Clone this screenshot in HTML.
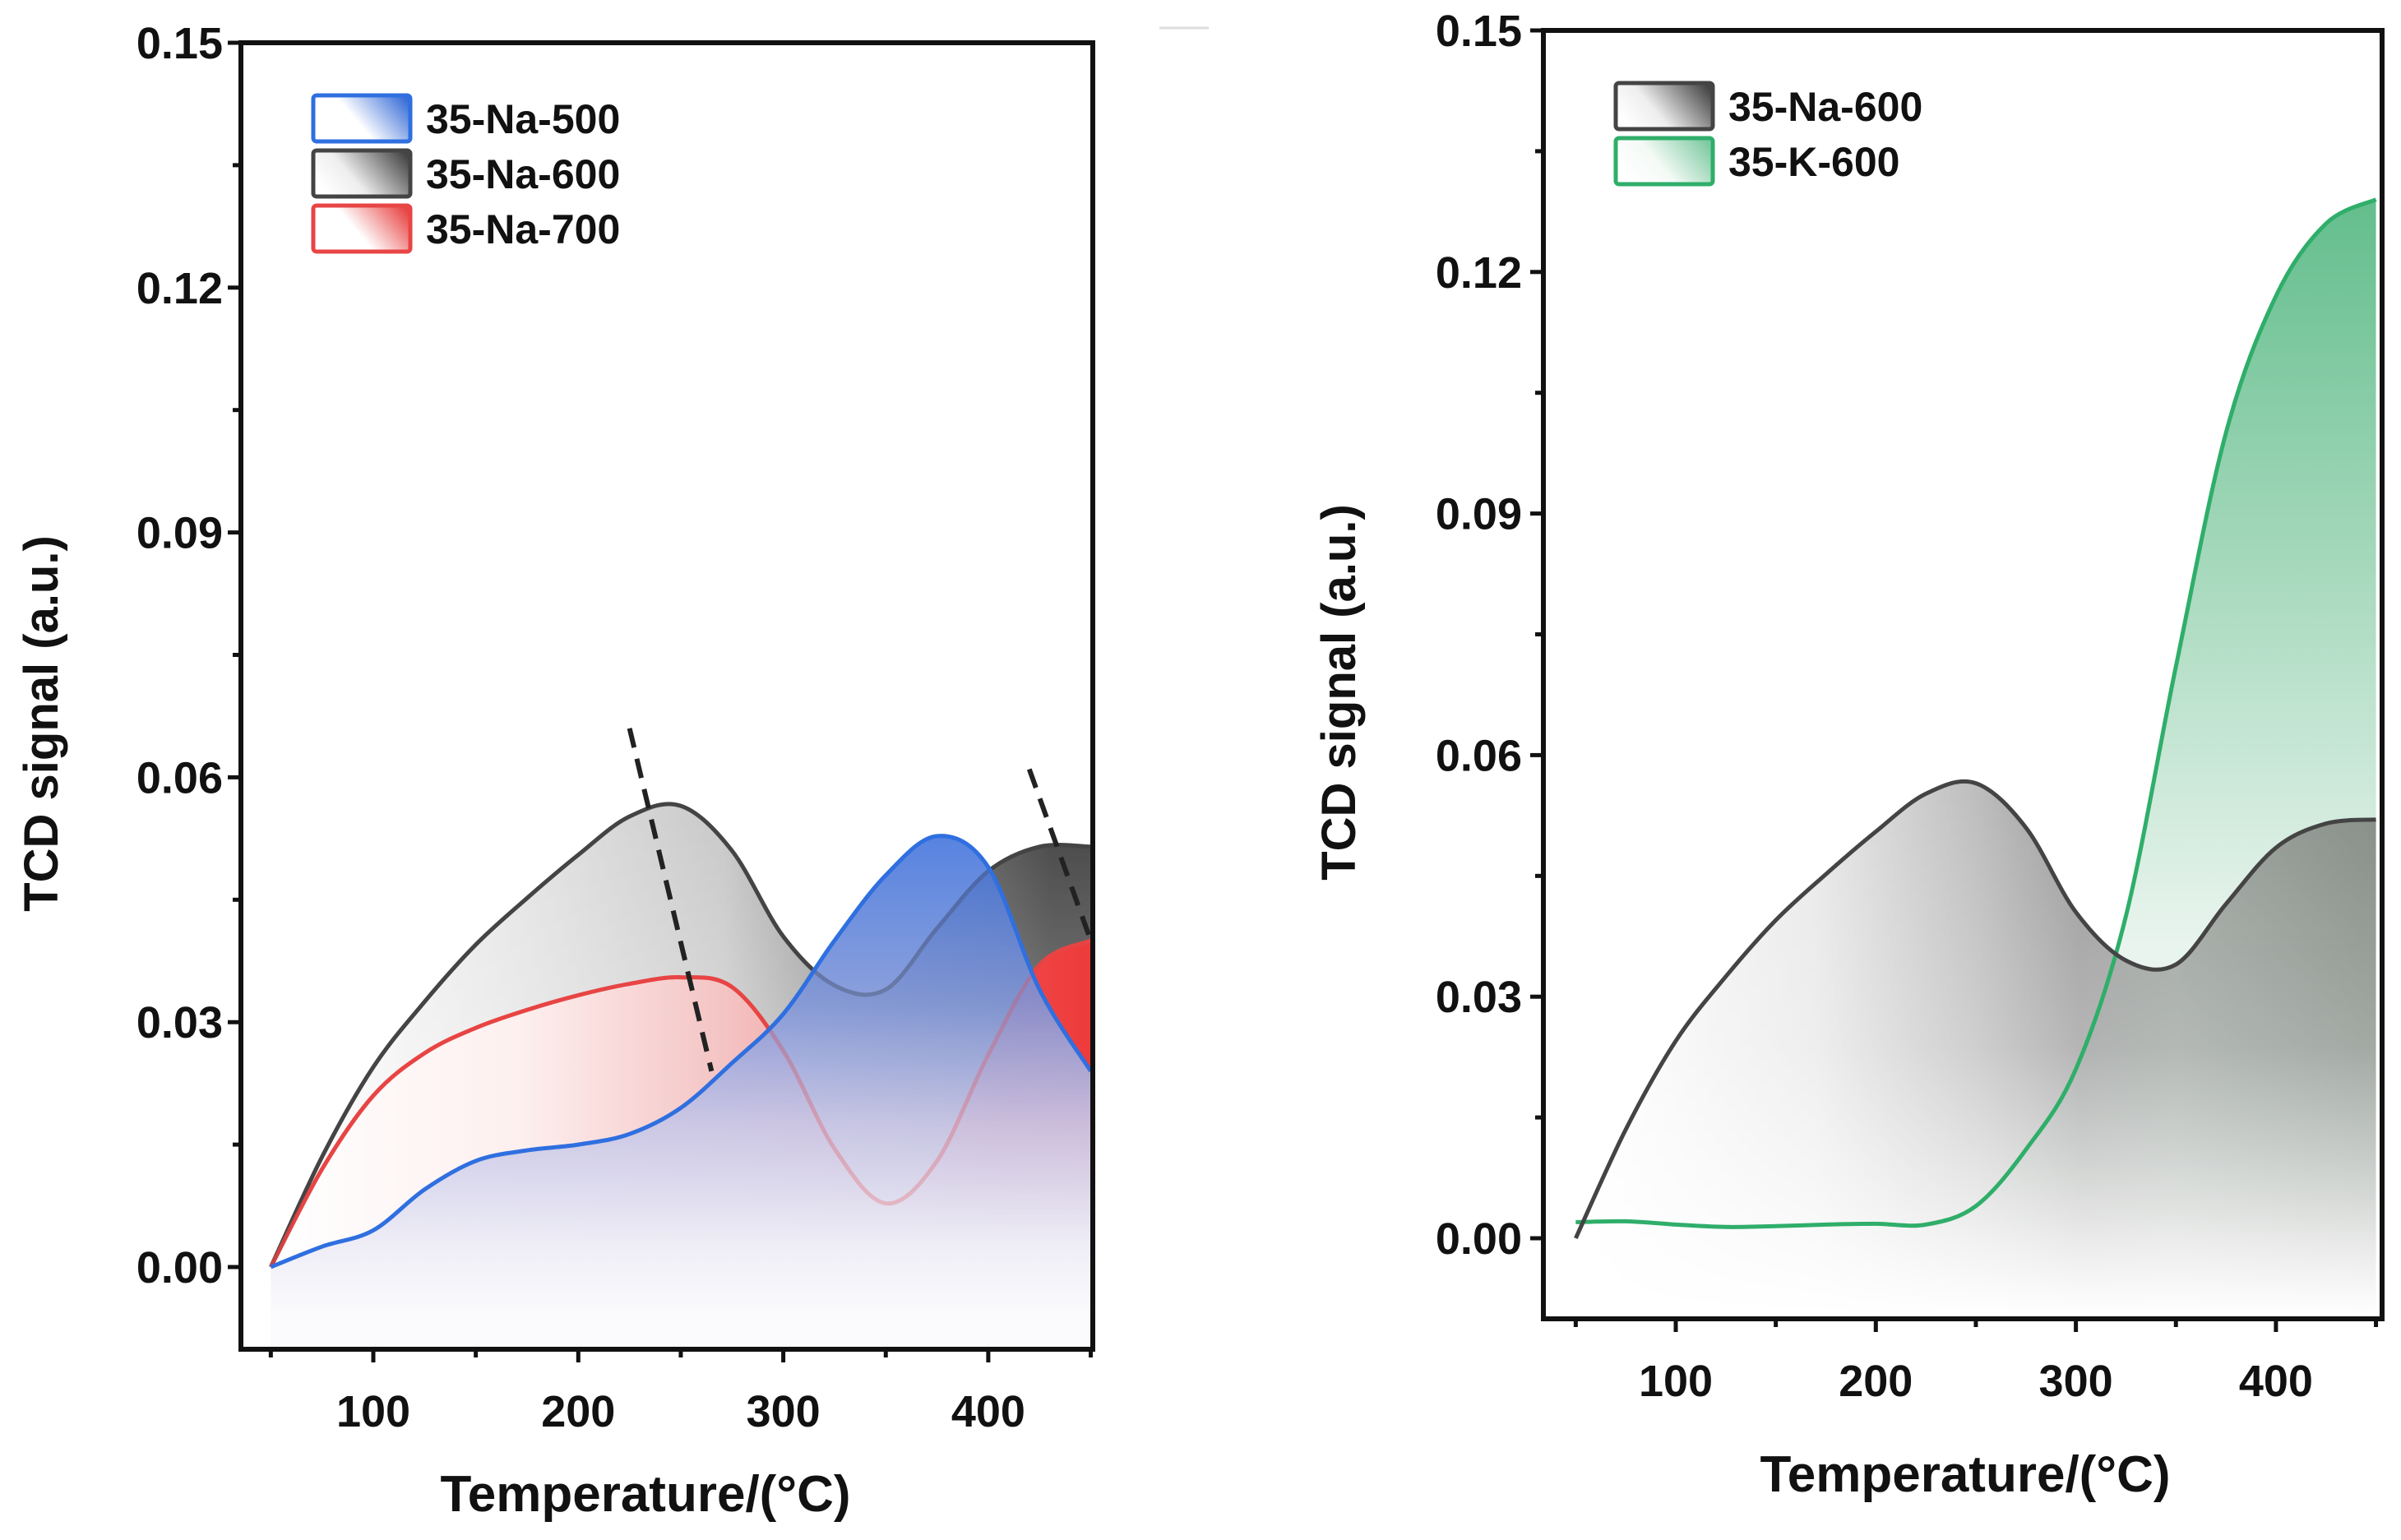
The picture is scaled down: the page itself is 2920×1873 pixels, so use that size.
<!DOCTYPE html>
<html><head><meta charset="utf-8"><style>
html,body{margin:0;padding:0;background:#fff}
svg text{font-family:"Liberation Sans",Arial,sans-serif;font-weight:bold;fill:#111}
</style></head><body>
<svg id="c" width="2920" height="1868" viewBox="0 0 2920 1868" xmlns="http://www.w3.org/2000/svg">
<defs>
<linearGradient id="gBlack" gradientUnits="userSpaceOnUse" x1="330" y1="0" x2="1329" y2="0"><stop offset="0" stop-color="#fff"/><stop offset="0.3" stop-color="#e4e4e4"/><stop offset="0.55" stop-color="#c8c8c8"/><stop offset="0.72" stop-color="#8a8a8a"/><stop offset="0.95" stop-color="#444"/></linearGradient>
<linearGradient id="gBlack2" gradientUnits="userSpaceOnUse" x1="1916" y1="0" x2="2890" y2="0"><stop offset="0" stop-color="#fff"/><stop offset="0.3" stop-color="#e8e8e8"/><stop offset="0.5" stop-color="#bdbdbd"/><stop offset="0.63" stop-color="#9a9a9a"/><stop offset="0.75" stop-color="#9ea29e"/><stop offset="1" stop-color="#868c86"/></linearGradient>
<linearGradient id="mGradL" gradientUnits="userSpaceOnUse" x1="0" y1="975" x2="0" y2="1541"><stop offset="0" stop-color="#fff"/><stop offset="1" stop-color="#777"/></linearGradient>
<linearGradient id="mGradR" gradientUnits="userSpaceOnUse" x1="0" y1="948" x2="0" y2="1600"><stop offset="0" stop-color="#fff"/><stop offset="0.5" stop-color="#bbb"/><stop offset="1" stop-color="#000"/></linearGradient>
<mask id="maskL" maskUnits="userSpaceOnUse" x="0" y="0" width="2920" height="1868"><rect x="0" y="0" width="2920" height="1868" fill="url(#mGradL)"/></mask>
<mask id="maskR" maskUnits="userSpaceOnUse" x="0" y="0" width="2920" height="1868"><rect x="0" y="0" width="2920" height="1868" fill="url(#mGradR)"/></mask>
<linearGradient id="gRed" gradientUnits="userSpaceOnUse" x1="330" y1="0" x2="1329" y2="0"><stop offset="0" stop-color="#fff"/><stop offset="0.3" stop-color="#fdf0ef"/><stop offset="0.55" stop-color="#f4c4c4"/><stop offset="0.7" stop-color="#f2a0a0"/><stop offset="0.9" stop-color="#f04848"/><stop offset="1" stop-color="#ee3a3a"/></linearGradient>
<linearGradient id="gBlue" gradientUnits="userSpaceOnUse" x1="0" y1="1015" x2="0" y2="1600"><stop offset="0" stop-color="#3f72dc" stop-opacity="0.88"/><stop offset="0.35" stop-color="#8096d8" stop-opacity="0.9"/><stop offset="0.6" stop-color="#c8c6e6" stop-opacity="0.93"/><stop offset="0.85" stop-color="#eeedf6"/><stop offset="1" stop-color="#fbfbfd"/></linearGradient>
<linearGradient id="gGreen" gradientUnits="userSpaceOnUse" x1="0" y1="233" x2="0" y2="1506"><stop offset="0" stop-color="#62bd8c"/><stop offset="0.4" stop-color="#aedcc2"/><stop offset="0.7" stop-color="#e6f3ec"/><stop offset="1" stop-color="#fff"/></linearGradient>
<linearGradient id="lBlue" x1="0" y1="0.6" x2="1" y2="0.2"><stop offset="0" stop-color="#fff"/><stop offset="0.4" stop-color="#fff"/><stop offset="1" stop-color="#3a6fd8"/></linearGradient>
<linearGradient id="lBlack" x1="0" y1="0.6" x2="1" y2="0.2"><stop offset="0" stop-color="#fff"/><stop offset="0.35" stop-color="#eee"/><stop offset="1" stop-color="#444"/></linearGradient>
<linearGradient id="lRed" x1="0" y1="0.6" x2="1" y2="0.2"><stop offset="0" stop-color="#fff"/><stop offset="0.4" stop-color="#fff"/><stop offset="1" stop-color="#e84545"/></linearGradient>
<linearGradient id="lGreen" x1="0" y1="0.6" x2="1" y2="0.2"><stop offset="0" stop-color="#fff"/><stop offset="0.4" stop-color="#f4faf6"/><stop offset="1" stop-color="#7cc9a0"/></linearGradient>
<clipPath id="clipL"><rect x="293" y="52" width="1036" height="1589"/></clipPath>
<clipPath id="clipR"><rect x="1877" y="37" width="1020" height="1567"/></clipPath>
</defs>
<line x1="1410" y1="34" x2="1470" y2="34" stroke="#ddd" stroke-width="3"/>
<g id="L"></g><g id="R"></g>
</svg>
<script>
const xTicks=[100,200,300,400];
const yTicks=[0.00,0.03,0.06,0.09,0.12,0.15];
const yTickLabels=["0.00","0.03","0.06","0.09","0.12","0.15"];
const temps=[50,75,100,125,150,175,200,225,250,275,300,325,350,375,400,425,450];
const na500V=[0,0.0025,0.0045,0.0095,0.013,0.0143,0.015,0.0163,0.0195,0.025,0.031,0.040,0.048,0.0528,0.049,0.034,0.024];
const na600V=[0,0.0135,0.0245,0.0325,0.0395,0.0452,0.0505,0.0552,0.0565,0.051,0.0405,0.0345,0.034,0.0415,0.0485,0.0515,0.0515];
const na700V=[0,0.012,0.021,0.0262,0.0293,0.0315,0.0333,0.0347,0.0355,0.0343,0.0265,0.0145,0.0078,0.013,0.026,0.037,0.040];
const k600V=[0.002,0.0021,0.0017,0.0014,0.0015,0.0017,0.0018,0.0017,0.004,0.011,0.021,0.040,0.071,0.100,0.117,0.126,0.129];
const na600RV=[0,0.0135,0.0245,0.0325,0.0395,0.0452,0.0505,0.0552,0.0565,0.051,0.0405,0.0345,0.034,0.0415,0.0485,0.0515,0.052];
const dashT=[[225,265],[420,450]];
const dashV=[[0.066,0.024],[0.061,0.040]];

const NS="http://www.w3.org/2000/svg";
function mk(p,tag,a){const e=document.createElementNS(NS,tag);for(const k in a)e.setAttribute(k,a[k]);p.appendChild(e);return e;}
function spline(pts){let d=`M${pts[0][0]},${pts[0][1]}`;for(let i=0;i<pts.length-1;i++){const p0=pts[i-1]||pts[i],p1=pts[i],p2=pts[i+1],p3=pts[i+2]||p2;const c1=[p1[0]+(p2[0]-p0[0])/6,p1[1]+(p2[1]-p0[1])/6],c2=[p2[0]-(p3[0]-p1[0])/6,p2[1]-(p3[1]-p1[1])/6];d+=` C${c1[0]},${c1[1]} ${c2[0]},${c2[1]} ${p2[0]},${p2[1]}`;}return d;}

function panel(g,cfg){
 const X=t=>cfg.x100+(t-100)*cfg.px100/100, Y=v=>cfg.y0+(cfg.y15-cfg.y0)*v/0.15;
 const plot=mk(g,'g',{'clip-path':`url(#${cfg.clip})`});
 
 const bottomY=cfg.fillBottom;
 cfg.series.forEach(s=>{
  const pts=s.t.map((t,i)=>[X(t),Y(s.v[i])]);
  s.pathD=spline(pts);
  const fa={d:s.pathD+` L${pts[pts.length-1][0]},${bottomY} L${pts[0][0]},${bottomY} Z`,fill:s.fill,stroke:'none'};
  if(s.mask)fa.mask=`url(#${s.mask})`;
  const f=mk(plot,'path',fa);
  
  if(s.lineBeforeNext){const l=mk(plot,'path',{d:s.pathD,fill:'none',stroke:s.color,'stroke-width':5});}
 });
 cfg.series.forEach(s=>{
  if(s.lineBeforeNext){const l=mk(plot,'path',{d:s.pathD,fill:'none',stroke:s.color,'stroke-width':5,'stroke-opacity':0.25});}
  else{const l=mk(plot,'path',{d:s.pathD,fill:'none',stroke:s.color,'stroke-width':5});}
 });
 (cfg.dash||[]).forEach((tt,i)=>{const dl=mk(plot,'line',{x1:X(tt[0]),y1:Y(cfg.dashV[i][0]),x2:X(tt[1]),y2:Y(cfg.dashV[i][1]),stroke:'#222','stroke-width':6,'stroke-dasharray':'24 14'});});
 const fr=mk(g,'rect',{x:cfg.fx,y:cfg.fy,width:cfg.fw,height:cfg.fh,fill:'none',stroke:'#111','stroke-width':6});
 
 const bot=cfg.fy+cfg.fh;
 for(let t=50;t<=450;t+=50){const tk=mk(g,'line',{x1:X(t),y1:bot,x2:X(t),y2:bot+(t%100==0?16:10),stroke:'#111','stroke-width':5});}
 xTicks.forEach(t=>{const tx=mk(g,'text',{x:X(t),y:cfg.xlabY,'text-anchor':'middle','font-size':54});tx.textContent=t;});
 for(let k=0;k<=10;k++){const v=k*0.015;const tk=mk(g,'line',{x1:cfg.fx,y1:Y(v),x2:cfg.fx-(k%2==0?16:10),y2:Y(v),stroke:'#111','stroke-width':5});}
 yTicks.forEach((v,i)=>{const tx=mk(g,'text',{x:cfg.ylabX,y:Y(v)+19,'text-anchor':'end','font-size':54});tx.textContent=yTickLabels[i];});
 const xt=mk(g,'text',{x:cfg.xtX,y:cfg.xtY,'text-anchor':'middle','font-size':62});xt.textContent='Temperature/(°C)';
 const yt=mk(g,'text',{x:0,y:0,'text-anchor':'middle','font-size':58,transform:`translate(${cfg.ytX},${cfg.ytY}) rotate(-90)`});yt.textContent='TCD signal (a.u.)';
 cfg.legend.forEach((e,i)=>{const gy=cfg.lgY+i*67;const lg=mk(g,'g',{});
  mk(lg,'rect',{x:cfg.lgX,y:gy,width:118,height:56,rx:4,fill:e.fill,stroke:e.color,'stroke-width':5});
  const tx=mk(lg,'text',{x:cfg.lgX+137,y:gy+46,'font-size':50});tx.textContent=e.label;});
}
panel(document.getElementById('L'),{clip:'clipL',x100:454,px100:249.3,y0:1541,y15:52,fx:293,fy:52,fw:1036,fh:1589,fillBottom:1641,xlabY:1735,ylabX:271,xtX:785,xtY:1838,ytX:70,ytY:880,lgX:381,lgY:116,
 series:[{name:'35-na-600',t:temps,v:na600V,color:'#444',fill:'url(#gBlack)',mask:'maskL',lineBeforeNext:true},
 {name:'35-na-700',t:temps,v:na700V,color:'#e84545',fill:'url(#gRed)',lineBeforeNext:true},
 {name:'35-na-500',t:temps,v:na500V,color:'#2f6fe0',fill:'url(#gBlue)'}],
 dash:dashT,dashV:dashV,
 legend:[{label:'35-Na-500',color:'#2f6fe0',fill:'url(#lBlue)'},{label:'35-Na-600',color:'#444',fill:'url(#lBlack)'},{label:'35-Na-700',color:'#e84545',fill:'url(#lRed)'}]});
panel(document.getElementById('R'),{clip:'clipR',x100:2038,px100:243.3,y0:1506,y15:37,fx:1877,fy:37,fw:1020,fh:1567,fillBottom:1604,xlabY:1698,ylabX:1851,xtX:2390,xtY:1814,ytX:1648,ytY:842,lgX:1965,lgY:101,
 series:[{name:'35-k-600',t:temps,v:k600V,color:'#2fae6a',fill:'url(#gGreen)'},
 {name:'35-na-600',t:temps,v:na600RV,color:'#444',fill:'url(#gBlack2)',mask:'maskR'}],
 legend:[{label:'35-Na-600',color:'#444',fill:'url(#lBlack)'},{label:'35-K-600',color:'#2fae6a',fill:'url(#lGreen)'}]});
</script>
</body></html>
